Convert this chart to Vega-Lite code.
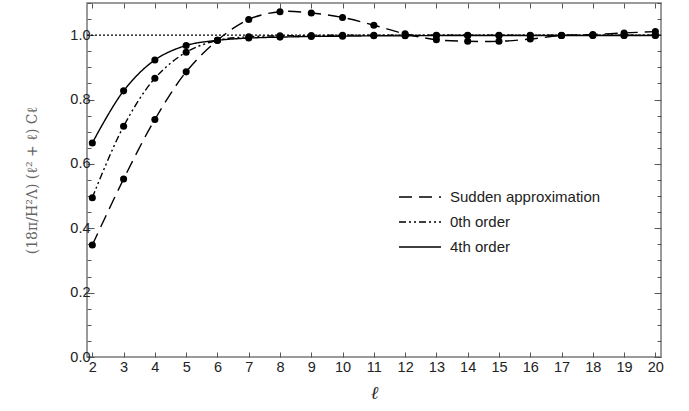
{
  "$schema": "https://vega.github.io/schema/vega-lite/v6.json",
  "width": 574,
  "height": 354,
  "autosize": "none",
  "padding": {"left": 87, "top": 3, "right": 28, "bottom": 54},
  "background": "white",
  "config": {
    "view": {"stroke": "#7a7a7a", "strokeWidth": 1.5},
    "font": "Liberation Sans"
  },
  "datasets": {
    "pts": [
      {"l": 2, "series": "4th order", "v": 0.665},
      {"l": 3, "series": "4th order", "v": 0.827},
      {"l": 4, "series": "4th order", "v": 0.923},
      {"l": 5, "series": "4th order", "v": 0.968},
      {"l": 6, "series": "4th order", "v": 0.984},
      {"l": 7, "series": "4th order", "v": 0.991},
      {"l": 8, "series": "4th order", "v": 0.994},
      {"l": 9, "series": "4th order", "v": 0.996},
      {"l": 10, "series": "4th order", "v": 0.997},
      {"l": 11, "series": "4th order", "v": 0.998},
      {"l": 12, "series": "4th order", "v": 0.998},
      {"l": 13, "series": "4th order", "v": 0.999},
      {"l": 14, "series": "4th order", "v": 0.999},
      {"l": 15, "series": "4th order", "v": 0.999},
      {"l": 16, "series": "4th order", "v": 0.999},
      {"l": 17, "series": "4th order", "v": 0.999},
      {"l": 18, "series": "4th order", "v": 0.999},
      {"l": 19, "series": "4th order", "v": 0.999},
      {"l": 20, "series": "4th order", "v": 0.999},
      {"l": 2, "series": "0th order", "v": 0.495},
      {"l": 3, "series": "0th order", "v": 0.717},
      {"l": 4, "series": "0th order", "v": 0.866},
      {"l": 5, "series": "0th order", "v": 0.947},
      {"l": 6, "series": "0th order", "v": 0.984},
      {"l": 7, "series": "0th order", "v": 0.995},
      {"l": 8, "series": "0th order", "v": 0.998},
      {"l": 9, "series": "0th order", "v": 0.999},
      {"l": 10, "series": "0th order", "v": 1.0},
      {"l": 11, "series": "0th order", "v": 1.0},
      {"l": 12, "series": "0th order", "v": 1.0},
      {"l": 13, "series": "0th order", "v": 1.0},
      {"l": 14, "series": "0th order", "v": 1.0},
      {"l": 15, "series": "0th order", "v": 1.0},
      {"l": 16, "series": "0th order", "v": 1.0},
      {"l": 17, "series": "0th order", "v": 1.0},
      {"l": 18, "series": "0th order", "v": 1.0},
      {"l": 19, "series": "0th order", "v": 1.0},
      {"l": 20, "series": "0th order", "v": 1.0},
      {"l": 2, "series": "Sudden approximation", "v": 0.348},
      {"l": 3, "series": "Sudden approximation", "v": 0.553},
      {"l": 4, "series": "Sudden approximation", "v": 0.738},
      {"l": 5, "series": "Sudden approximation", "v": 0.886},
      {"l": 6, "series": "Sudden approximation", "v": 0.984},
      {"l": 7, "series": "Sudden approximation", "v": 1.049},
      {"l": 8, "series": "Sudden approximation", "v": 1.073},
      {"l": 9, "series": "Sudden approximation", "v": 1.069},
      {"l": 10, "series": "Sudden approximation", "v": 1.055},
      {"l": 11, "series": "Sudden approximation", "v": 1.031},
      {"l": 12, "series": "Sudden approximation", "v": 1.004},
      {"l": 13, "series": "Sudden approximation", "v": 0.986},
      {"l": 14, "series": "Sudden approximation", "v": 0.981},
      {"l": 15, "series": "Sudden approximation", "v": 0.981},
      {"l": 16, "series": "Sudden approximation", "v": 0.988},
      {"l": 17, "series": "Sudden approximation", "v": 0.999},
      {"l": 18, "series": "Sudden approximation", "v": 1.002},
      {"l": 19, "series": "Sudden approximation", "v": 1.007},
      {"l": 20, "series": "Sudden approximation", "v": 1.011}
    ]
  },
  "resolve": {"axis": {"x": "independent", "y": "independent"}},
  "layer": [
    {
      "data": {"values": [{"y": 1}]},
      "mark": {"type": "rule", "stroke": "black", "strokeWidth": 1.2, "strokeDash": [2, 2]},
      "encoding": {
        "y": {"field": "y", "type": "quantitative", "scale": {"domain": [0, 1.1], "nice": false, "zero": true}, "axis": null}
      }
    },
    {
      "data": {"name": "pts"},
      "mark": {"type": "line", "interpolate": "catmull-rom", "stroke": "black", "strokeWidth": 1.4},
      "encoding": {
        "x": {
          "field": "l", "type": "quantitative",
          "scale": {"domain": [1.83, 20.18], "nice": false, "zero": false},
          "axis": {
            "orient": "bottom", "values": [2,3,4,5,6,7,8,9,10,11,12,13,14,15,16,17,18,19,20],
            "domain": false, "grid": false, "tickSize": -5, "tickColor": "#555", "tickWidth": 1,
            "labelFontSize": 14.5, "labelColor": "#222", "labelPadding": 8, "labelFont": "Liberation Sans",
            "title": "ℓ", "titleFont": "DejaVu Serif", "titleFontStyle": "italic", "titleFontWeight": "normal",
            "titleFontSize": 18, "titleColor": "#222", "titlePadding": 11
          }
        },
        "y": {
          "field": "v", "type": "quantitative",
          "scale": {"domain": [0, 1.1], "nice": false, "zero": true},
          "axis": {
            "orient": "left",
            "values": [0,0.05,0.1,0.15,0.2,0.25,0.3,0.35,0.4,0.45,0.5,0.55,0.6,0.65,0.7,0.75,0.8,0.85,0.9,0.95,1.0,1.05,1.1],
            "labelExpr": "abs(datum.value*5 - round(datum.value*5)) < 0.001 ? format(datum.value, '.1f') : ''",
            "tickSize": {"condition": {"test": "abs(datum.value*5 - round(datum.value*5)) < 0.001", "value": -7}, "value": -4},
            "domain": false, "grid": false, "tickColor": "#555", "tickWidth": 1,
            "labelFontSize": 14.5, "labelColor": "#222", "labelPadding": 4, "labelFont": "Liberation Sans",
            "title": "(18π/H²Λ) (ℓ² + ℓ) Cℓ", "titleFont": "DejaVu Serif", "titleFontWeight": "normal",
            "titleFontSize": 14, "titleColor": "#666", "titlePadding": 30
          }
        },
        "strokeDash": {
          "field": "series", "type": "nominal",
          "scale": {"domain": ["Sudden approximation", "0th order", "4th order"], "range": [[13, 7], [7, 3, 2, 3, 2, 3], [1, 0]]},
          "legend": {
            "title": null, "orient": "none", "legendX": 325, "legendY": 186,
            "symbolType": "M-3,0H3", "symbolSize": 196, "symbolStrokeWidth": 1.4, "symbolStrokeColor": "black",
            "labelFontSize": 15, "labelColor": "#222", "labelFont": "Liberation Sans", "labelOffset": 22,
            "rowPadding": 9
          }
        }
      }
    },
    {
      "data": {"name": "pts"},
      "mark": {"type": "circle", "size": 50, "fill": "black", "opacity": 1},
      "encoding": {
        "x": {
          "field": "l", "type": "quantitative",
          "scale": {"domain": [1.83, 20.18], "nice": false, "zero": false},
          "axis": {"orient": "top", "values": [2,3,4,5,6,7,8,9,10,11,12,13,14,15,16,17,18,19,20], "labels": false, "domain": false, "grid": false, "tickSize": -5, "tickColor": "#555", "title": null}
        },
        "y": {
          "field": "v", "type": "quantitative",
          "scale": {"domain": [0, 1.1], "nice": false, "zero": true},
          "axis": {
            "orient": "right",
            "values": [0,0.05,0.1,0.15,0.2,0.25,0.3,0.35,0.4,0.45,0.5,0.55,0.6,0.65,0.7,0.75,0.8,0.85,0.9,0.95,1.0,1.05,1.1],
            "labels": false,
            "tickSize": {"condition": {"test": "abs(datum.value*5 - round(datum.value*5)) < 0.001", "value": -7}, "value": -4},
            "domain": false, "grid": false, "tickColor": "#555", "title": null
          }
        }
      }
    }
  ]
}
